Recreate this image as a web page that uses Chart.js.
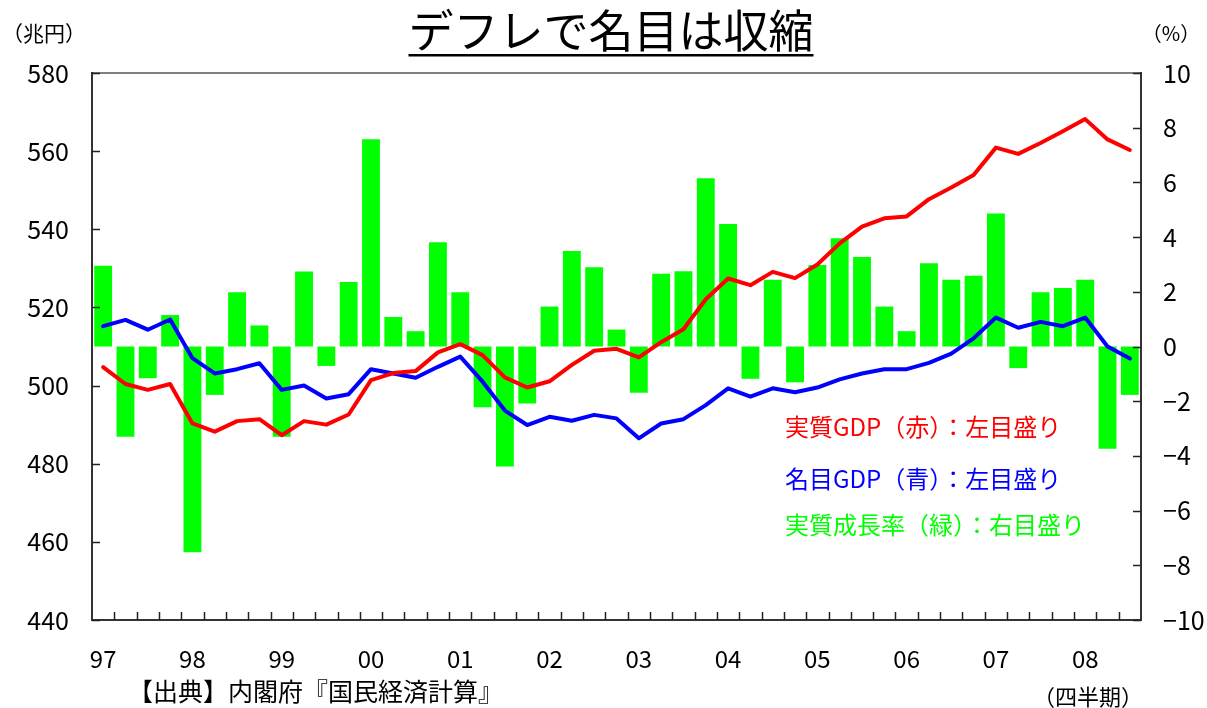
<!DOCTYPE html>
<html><head><meta charset="utf-8">
<script src="https://cdn.jsdelivr.net/npm/chart.js@4/dist/chart.umd.min.js"></script>
<style>html,body{margin:0;padding:0;background:#fff}#wrap{width:1207px;height:708px;position:relative}</style>
</head><body><div id="wrap"><canvas id="c" width="1207" height="708"></canvas></div>
<script>
const quarters = [
 '97Q1','97Q2','97Q3','97Q4','98Q1','98Q2','98Q3','98Q4','99Q1','99Q2','99Q3','99Q4',
 '00Q1','00Q2','00Q3','00Q4','01Q1','01Q2','01Q3','01Q4','02Q1','02Q2','02Q3','02Q4',
 '03Q1','03Q2','03Q3','03Q4','04Q1','04Q2','04Q3','04Q4','05Q1','05Q2','05Q3','05Q4',
 '06Q1','06Q2','06Q3','06Q4','07Q1','07Q2','07Q3','07Q4','08Q1','08Q2','08Q3'];
const yearLabels = [
 '97','','','','98','','','','99','','','',
 '00','','','','01','','','','02','','','',
 '03','','','','04','','','','05','','','',
 '06','','','','07','','','','08','',''];
const realGDP = [
 504.7,500.4,498.9,500.4,490.3,488.2,490.9,491.4,487.3,490.9,490.0,492.6,
 501.4,503.2,503.7,508.5,510.6,507.8,502.1,499.5,501.1,505.3,508.9,509.4,
 507.2,511.1,514.4,522.1,527.4,525.7,529.1,527.5,531.0,536.4,540.7,542.8,
 543.3,547.7,550.7,553.9,560.9,559.3,562.1,565.1,568.2,563.0,560.3];
const nominalGDP = [
 515.2,516.8,514.3,516.9,507.0,503.1,504.2,505.7,498.9,500.0,496.7,497.8,
 504.2,503.1,502.0,504.8,507.4,501.0,493.6,489.9,492.0,491.0,492.5,491.6,
 486.5,490.3,491.4,495.0,499.3,497.2,499.3,498.3,499.5,501.6,503.1,504.2,
 504.2,505.8,508.2,512.1,517.4,514.8,516.3,515.2,517.4,510.0,506.9];
const realGrowth = [
 2.95,-3.30,-1.16,1.15,-7.52,-1.77,1.98,0.77,-3.30,2.74,-0.71,2.36,
 7.58,1.08,0.56,3.81,1.98,-2.22,-4.39,-2.08,1.46,3.49,2.90,0.62,
 -1.69,2.66,2.75,6.15,4.48,-1.18,2.44,-1.31,2.98,3.96,3.27,1.46,
 0.56,3.04,2.44,2.59,4.86,-0.79,1.98,2.14,2.44,-3.74,-1.77];
const leftTicks = [440,460,480,500,520,540,560,580];
const rightTicks = [-10,-8,-6,-4,-2,0,2,4,6,8,10];

const titleText = 'デフレで名目は収縮';
const leftUnit = '（兆円）';
const rightUnit = '（%）';
const legendTexts = ['実質GDP（赤）：左目盛り','名目GDP（青）：左目盛り','実質成長率（緑）：右目盛り'];
const sourceText = '【出典】内閣府『国民経済計算』';
const periodText = '（四半期）';

const RED = '#ff0000', BLUE = '#0000ff', GREEN = '#00ff00';
const FONT = '"Noto Sans CJK JP","Noto Sans",sans-serif';

const decor = {
  id: 'decor',
  beforeDraw(chart) {
    const ctx = chart.ctx;
    ctx.save(); ctx.fillStyle = '#fff'; ctx.fillRect(0, 0, chart.width, chart.height); ctx.restore();
  },
  afterDatasetsDraw(chart) {
    const ctx = chart.ctx, a = chart.chartArea;
    const xs = chart.scales.x, yl = chart.scales.y, yr = chart.scales.y2;
    ctx.save();
    ctx.strokeStyle = '#808080'; ctx.lineWidth = 2;
    ctx.beginPath(); ctx.moveTo(a.left, a.top); ctx.lineTo(a.right, a.top); ctx.stroke();
    ctx.strokeStyle = '#333'; ctx.lineWidth = 2;
    ctx.beginPath();
    ctx.moveTo(a.left, a.top - 1); ctx.lineTo(a.left, a.bottom);
    ctx.lineTo(a.right, a.bottom); ctx.lineTo(a.right, a.top - 1);
    ctx.stroke();
    ctx.strokeStyle = '#222'; ctx.lineWidth = 1.5;
    ctx.beginPath();
    leftTicks.forEach(v => { const y = Math.round(yl.getPixelForValue(v)) + 0.5; ctx.moveTo(a.left, y); ctx.lineTo(a.left + 8, y); });
    rightTicks.forEach(v => { const y = Math.round(yr.getPixelForValue(v)) + 0.5; ctx.moveTo(a.right, y); ctx.lineTo(a.right - 8, y); });
    for (let i = 1; i < quarters.length; i++) {
      const x = Math.round((xs.getPixelForValue(i - 1) + xs.getPixelForValue(i)) / 2) + 0.5;
      ctx.moveTo(x, a.bottom); ctx.lineTo(x, a.bottom - 8);
    }
    ctx.stroke();
    ctx.restore();
  },
  afterDraw(chart) {
    const ctx = chart.ctx;
    ctx.save();
    ctx.textBaseline = 'middle';
    ctx.fillStyle = '#000';
    ctx.font = '45px ' + FONT;
    ctx.textAlign = 'center';
    ctx.fillText(titleText, 611, 31);
    const tw = ctx.measureText(titleText).width;
    ctx.fillRect(611 - tw / 2, 54, tw, 2.5);
    ctx.font = '21px ' + FONT;
    ctx.fillText(leftUnit, 44, 33);
    ctx.font = '20px ' + FONT;
    ctx.fillText(rightUnit, 1171, 33);
    ctx.textAlign = 'left';
    ctx.font = '24px ' + FONT;
    const lc = [RED, BLUE, GREEN], ly = [427, 479, 525];
    legendTexts.forEach((t, i) => { ctx.fillStyle = lc[i]; ctx.fillText(t, 785, ly[i]); });
    ctx.fillStyle = '#000';
    ctx.font = '25px ' + FONT;
    ctx.fillText(sourceText, 128, 691);
    ctx.font = '22px ' + FONT;
    ctx.textAlign = 'center';
    ctx.fillText(periodText, 1088, 697);
    ctx.restore();
  }
};

new Chart(document.getElementById('c'), {
  data: {
    labels: quarters,
    datasets: [
      { type: 'line', label: '実質GDP', data: realGDP, yAxisID: 'y', borderColor: RED, borderWidth: 4,
        pointRadius: 0, tension: 0, borderJoinStyle: 'round', borderCapStyle: 'round', order: 0 },
      { type: 'line', label: '名目GDP', data: nominalGDP, yAxisID: 'y', borderColor: BLUE, borderWidth: 4,
        pointRadius: 0, tension: 0, borderJoinStyle: 'round', borderCapStyle: 'round', order: 1 },
      { type: 'bar', label: '実質成長率', data: realGrowth, yAxisID: 'y2', backgroundColor: GREEN,
        borderWidth: 0, barPercentage: 0.8, categoryPercentage: 1.0, order: 2 }
    ]
  },
  options: {
    responsive: false, animation: false, devicePixelRatio: 1,
    layout: { padding: { top: 73, left: 0, right: 0, bottom: 0 } },
    plugins: { legend: { display: false }, tooltip: { enabled: false }, title: { display: false } },
    scales: {
      x: {
        type: 'category', offset: true,
        grid: { display: false, drawTicks: false }, border: { display: false },
        ticks: { autoSkip: false, maxRotation: 0, minRotation: 0, padding: 24, color: '#000',
          font: { family: FONT, size: 24 }, callback: (v, i) => yearLabels[i] },
        afterFit: s => { s.height = 88; }
      },
      y: {
        position: 'left', min: leftTicks[0], max: leftTicks[leftTicks.length - 1],
        grid: { display: false, drawTicks: false }, border: { display: false },
        afterBuildTicks: s => { s.ticks = leftTicks.map(v => ({ value: v })); },
        ticks: { padding: 23, color: '#000', font: { family: FONT, size: 25 }, callback: v => String(v) },
        afterFit: s => { s.width = 92; }
      },
      y2: {
        position: 'right', min: rightTicks[0], max: rightTicks[rightTicks.length - 1],
        grid: { display: false, drawTicks: false }, border: { display: false },
        afterBuildTicks: s => { s.ticks = rightTicks.map(v => ({ value: v })); },
        ticks: { padding: 22, color: '#000', font: { family: FONT, size: 25 }, callback: v => String(v).replace('-', '−') },
        afterFit: s => { s.width = 66; }
      }
    }
  },
  plugins: [decor]
});
</script>
</body></html>
